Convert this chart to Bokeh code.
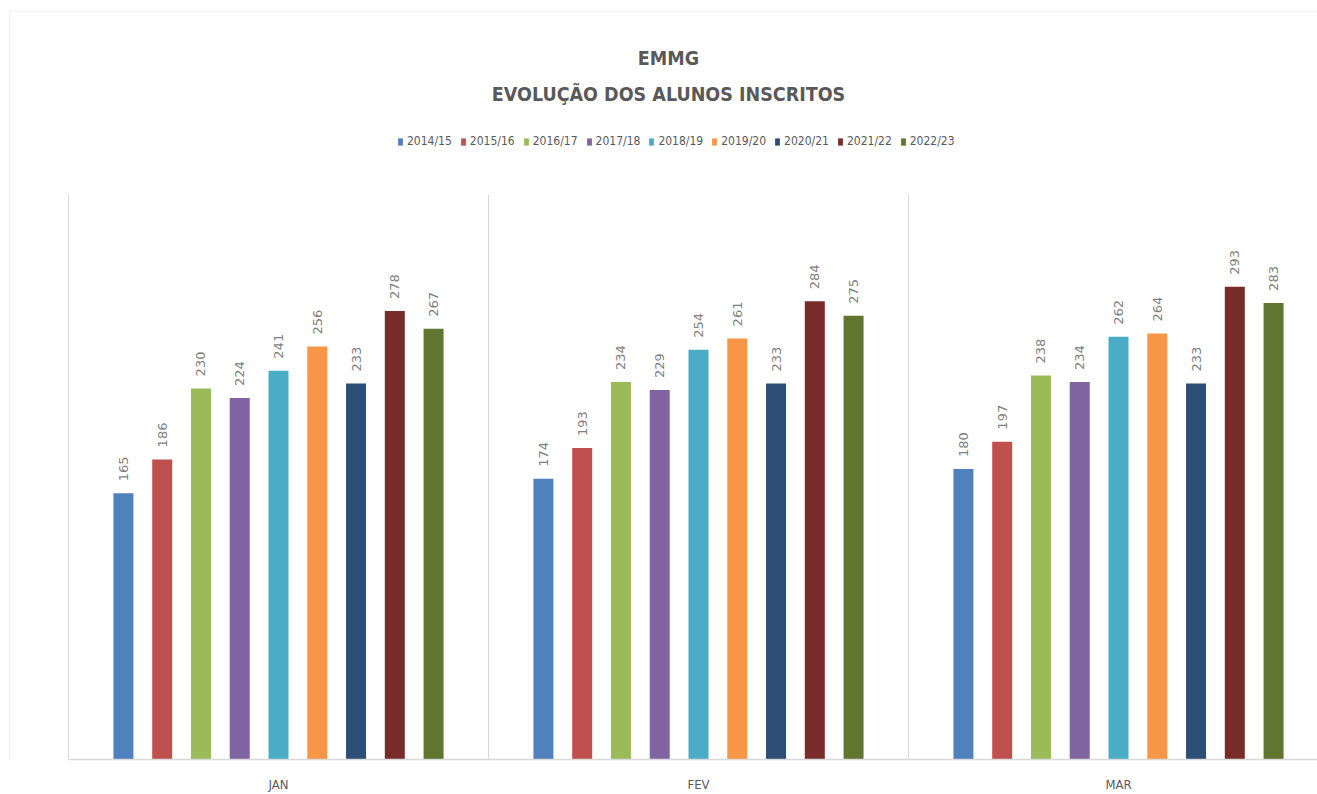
import math
from bokeh.plotting import figure
from bokeh.models import (ColumnDataSource, Range1d, FixedTicker, Legend, LegendItem,
                          Label, BoxAnnotation)
from bokeh.core.properties import value
from bokeh.embed import file_html
from bokeh.resources import INLINE

# ---- data ----
months = ["JAN", "FEV", "MAR"]
series = ["2014/15", "2015/16", "2016/17", "2017/18", "2018/19",
          "2019/20", "2020/21", "2021/22", "2022/23"]
colors = ["#4F81BD", "#C0504D", "#9BBB59", "#8064A2", "#4BACC6",
          "#F79646", "#2C4D75", "#772C2A", "#5F7530"]
jan = [165, 186, 230, 224, 241, 256, 233, 278, 267]
fev = [174, 193, 234, 229, 254, 261, 233, 284, 275]
mar = [180, 197, 238, 234, 262, 264, 233, 293, 283]
title_line1 = "EMMG"
title_line2 = "EVOLUÇÃO DOS ALUNOS INSCRITOS"
axis_max = 350

table = [jan, fev, mar]

NARROW = "'DejaVu Sans Condensed', 'DejaVu Sans', sans-serif"
GREY = "#595959"
LINE = "#d9d9d9"

W, H = 1317, 794
plot_left, plot_bottom = 68, 763      # pixel position of the category plot area
cat_px = 420                          # pixel width of one month group
px_per_unit = 1.622

p = figure(width=W, height=H,
           x_range=Range1d(-plot_left / cat_px, (W - plot_left) / cat_px),
           y_range=Range1d(0, plot_bottom / px_per_unit),
           output_backend="svg", toolbar_location=None,
           y_axis_location=None, title_location=None,
           min_border_left=0, min_border_right=0,
           min_border_top=0, min_border_bottom=H - plot_bottom)

# outer chart border
p.add_layout(BoxAnnotation(left=9, right=W + 50, top=plot_bottom - 15, bottom=-60,
                           left_units="screen", right_units="screen",
                           top_units="screen", bottom_units="screen",
                           fill_alpha=0, line_color=LINE, line_width=1.5,
                           level="underlay"))

# month separators
bounds = list(range(len(months) + 1))
p.segment(x0=bounds, x1=bounds, y0=[0] * len(bounds), y1=[axis_max] * len(bounds),
          line_color=LINE, line_width=1)

step = 0.0923
bar_w = 0.0476
renderers = []
n = len(series)
for i, name in enumerate(series):
    xs = [m + 0.5 + (i - (n - 1) / 2) * step for m in range(len(months))]
    tops = [table[m][i] for m in range(len(months))]
    src = ColumnDataSource(dict(x=xs, top=tops, label=[str(t) for t in tops]))
    r = p.vbar(x="x", top="top", width=bar_w, source=src,
               fill_color=colors[i], line_color=None)
    renderers.append(r)
    p.text(x="x", y="top", text="label", source=src, angle=math.pi / 2,
           text_align="left", text_baseline="middle", y_offset=-12,
           text_font=value("DejaVu Sans"), text_font_size="13px",
           text_color="#7f7f7f")

legend = Legend(items=[LegendItem(label=s, renderers=[r]) for s, r in zip(series, renderers)],
                orientation="horizontal", location=(397, plot_bottom - 152),
                glyph_width=6, glyph_height=9, label_standoff=4, spacing=8,
                padding=0, margin=0,
                label_text_font=NARROW, label_text_font_size="12px",
                label_text_color=GREY,
                background_fill_alpha=0, border_line_color=None)
p.add_layout(legend, "center")

for txt, ybase in [(title_line1, 62), (title_line2, 98)]:
    p.add_layout(Label(x=668, y=plot_bottom - ybase, x_units="screen", y_units="screen",
                       text=txt, text_align="center", text_baseline="alphabetic",
                       text_font=NARROW, text_font_style="bold",
                       text_font_size="19.5px", text_color=GREY))

ticks = [m + 0.5 for m in range(len(months))]
p.xaxis.ticker = FixedTicker(ticks=ticks)
p.xaxis.major_label_overrides = dict(zip(ticks, months))
p.xaxis.bounds = (0, len(months))
p.xaxis.major_tick_line_color = None
p.xaxis.minor_tick_line_color = None
p.xaxis.axis_line_color = LINE
p.xaxis.axis_line_width = 1.5
p.xaxis.major_label_text_font = NARROW
p.xaxis.major_label_text_font_size = "13px"
p.xaxis.major_label_text_color = GREY
p.xaxis.major_label_standoff = 11

p.xgrid.grid_line_color = None
p.ygrid.grid_line_color = None
p.outline_line_color = None

open("out.html", "w").write(file_html(p, INLINE))
